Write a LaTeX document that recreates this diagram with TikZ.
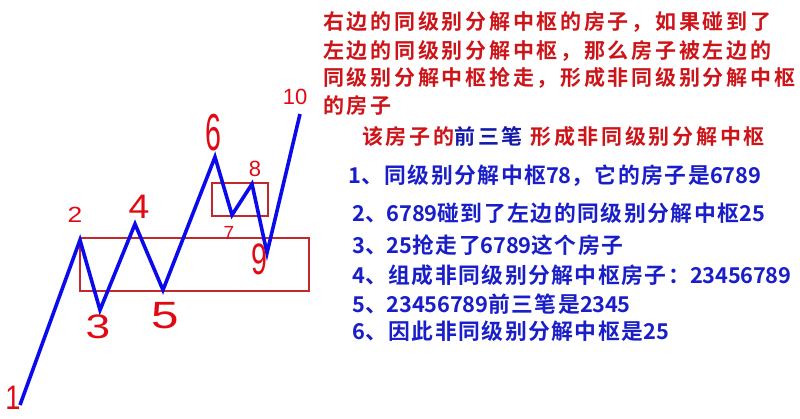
\documentclass[tikz,border=0pt]{standalone}
\usepackage{fontspec}
\usepackage{graphicx}
\newfontfamily\cjkr{Noto Sans CJK SC}[BoldFont={Noto Sans CJK SC Bold},LetterSpace=13]
\newfontfamily\cjkb{Noto Sans CJK SC}[BoldFont={Noto Sans CJK SC Bold},LetterSpace=7]
\newfontfamily\digfont{Noto Sans CJK SC}[BoldFont={Noto Sans CJK SC Bold},LetterSpace=-1]
\newfontfamily\hwfont{Liberation Sans}
\definecolor{tred}{RGB}{205,20,25}
\definecolor{tblue}{RGB}{25,30,200}
\definecolor{tblueb}{RGB}{20,25,170}
\definecolor{lblue}{RGB}{10,10,235}
\definecolor{rbox}{RGB}{195,40,45}
\definecolor{hred}{RGB}{225,10,20}
\newcommand{\hwd}[3]{\scalebox{#3}[1]{\fontsize{#2}{#2}\selectfont #1}}
\newcommand{\dg}[1]{{\digfont\bfseries #1}}
\tikzset{
  rtxt/.style={anchor=west,inner sep=0pt,text=tred,font=\cjkr\bfseries\fontsize{21}{21}\selectfont},
  btxt/.style={anchor=west,inner sep=0pt,text=tblue,font=\cjkb\bfseries\fontsize{21.8}{21.8}\selectfont},
  hw/.style={inner sep=0pt,text=hred,font=\hwfont},
  wave/.style={draw=lblue,line width=3.6pt,line join=miter,miter limit=10},
  zbox/.style={draw=rbox,line width=1.4pt}
}
\begin{document}
\begin{tikzpicture}[x=1pt,y=-1pt]
\useasboundingbox[fill=white] (0,0) rectangle (800,418);
% boxes
\coordinate (b1a) at (80,238); \coordinate (b1b) at (309,291);
\coordinate (b2a) at (212,183); \coordinate (b2b) at (268,216);
\draw[zbox] (b1a) rectangle (b1b);
\draw[zbox] (b2a) rectangle (b2b);
% wave points
\coordinate (p1) at (20,405);
\coordinate (p2) at (80,240);
\coordinate (p3) at (100,310);
\coordinate (p4) at (135,224);
\coordinate (p5) at (163,290);
\coordinate (p6) at (215,157);
\coordinate (p7) at (232,215);
\coordinate (p8) at (252,184);
\coordinate (p9) at (267,253);
\coordinate (p10) at (300,114);
\draw[wave] (p1) -- (p2) -- (p3) -- (p4) -- (p5) -- (p6) -- (p7) -- (p8) -- (p9) -- (p10);
% handwritten labels
\node[hw] (l1) at (13,398) {\hwd{1}{34}{0.8}};
\node[hw] (l2) at (75,215) {\hwd{2}{22}{1.2}};
\node[hw] (l3) at (98,327) {\hwd{3}{34}{1.3}};
\node[hw] (l4) at (139,207) {\hwd{4}{34}{1.1}};
\node[hw] (l5) at (165,316) {\hwd{5}{38}{1.3}};
\node[hw] (l6) at (213,133) {\hwd{6}{52}{0.55}};
\node[hw] (l7) at (229,233) {\hwd{7}{19}{1}};
\node[hw] (l8) at (255,169) {\hwd{8}{22}{1}};
\node[hw] (l9) at (259,259) {\hwd{9}{44}{0.65}};
\node[hw] (l10) at (295,97) {\hwd{10}{22}{1}};
% red text
\node[rtxt] (r1) at (323,22) {右边的同级别分解中枢的房子，如果碰到了};
\node[rtxt] (r2) at (323,51) {左边的同级别分解中枢，那么房子被左边的};
\node[rtxt] (r3) at (323,78) {同级别分解中枢抢走，形成非同级别分解中枢};
\node[rtxt] (r4) at (323,106) {的房子};
\node[rtxt] (r5) at (362,137) {该房子的\textcolor{tblueb}{前三笔} 形成非同级别分解中枢};
% blue list
\node[btxt] (t1) at (348,176) {\dg{1}、同级别分解中枢\dg{78}，它的房子是\dg{6789}};
\node[btxt] (t2) at (352,213) {\dg{2}、\dg{6789}碰到了左边的同级别分解中枢\dg{25}};
\node[btxt] (t3) at (352,245) {\dg{3}、\dg{25}抢走了\dg{6789}这个房子};
\node[btxt] (t4) at (352,275) {\dg{4}、组成非同级别分解中枢房子：\dg{23456789}};
\node[btxt] (t5) at (352,304) {\dg{5}、\dg{23456789}前三笔是\dg{2345}};
\node[btxt] (t6) at (352,331) {\dg{6}、因此非同级别分解中枢是\dg{25}};
\end{tikzpicture}
\end{document}
